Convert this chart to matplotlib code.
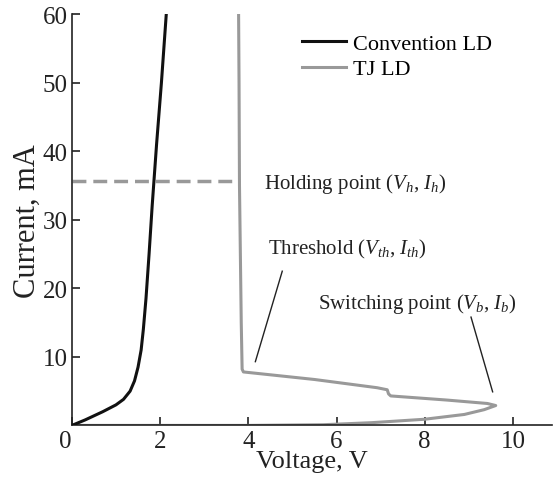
import matplotlib
matplotlib.use("Agg")
import matplotlib.pyplot as plt

plt.rcParams['font.family'] = ['Liberation Serif', 'DejaVu Serif']
plt.rcParams['mathtext.fontset'] = 'custom'
plt.rcParams['mathtext.it'] = 'Liberation Serif:italic'
plt.rcParams['mathtext.rm'] = 'Liberation Serif'

# Conventional LD I-V curve
conv_v = [0, 0.3, 0.7, 1.0, 1.17, 1.32, 1.42, 1.50, 1.57, 1.62, 1.68, 1.75, 1.82, 1.92, 2.03, 2.14]
conv_i = [0, 0.8, 2.0, 3.0, 3.8, 5.0, 6.5, 8.5, 11, 14, 18.5, 25, 32, 41, 50, 60]

# TJ LD I-V curve (S-shaped, with snap-back)
tj_v = [0, 2.0, 4.0, 5.7, 6.8, 8.0, 8.9, 9.35, 9.61, 9.42, 8.5, 7.23, 7.18, 7.15, 6.92, 5.5, 3.89,
        3.86, 3.84, 3.82, 3.80, 3.79, 3.78]
tj_i = [0, 0, 0, 0.1, 0.4, 0.9, 1.6, 2.3, 2.9, 3.2, 3.7, 4.3, 4.6, 5.2, 5.5, 6.7, 7.8,
        8.2, 15, 25, 35, 50, 60]

# Holding point current
hold_i = 35.6
hold_v_end = 3.8

x_ticks = [0, 2, 4, 6, 8, 10]
x_labels = ['0', '2', '4', '6', '8', '10']
y_ticks = [10, 20, 30, 40, 50, 60]

fig = plt.figure(figsize=(5.53, 4.89), dpi=100)
ax = fig.add_axes([0.130, 0.128, 0.8677, 0.841])

ax.plot(conv_v, conv_i, color='#111111', lw=2.2, label='Convention LD', zorder=3)
ax.plot(tj_v, tj_i, color='#999999', lw=2.2, label='TJ LD', zorder=2)
ax.plot([0, hold_v_end], [hold_i, hold_i], color='#999999', lw=2.5, ls=(0, (4, 2)), zorder=1)

ax.set_xlim(0, 10.88)
ax.set_ylim(0, 60)
ax.set_xticks(x_ticks)
ax.set_xticklabels(x_labels)
ax.set_yticks(y_ticks)
for s in ['top', 'right']:
    ax.spines[s].set_visible(False)
for s in ['left', 'bottom']:
    ax.spines[s].set_linewidth(1.2)
    ax.spines[s].set_color('#222222')
ax.tick_params(direction='in', length=6, width=1.2, labelsize=18, colors='#222222', pad=3)
# shift the "0" x tick label a bit to the left, as in the reference
lab0 = ax.get_xticklabels()[0]
lab0.set_horizontalalignment('right')
lab0.set_x(-0.02)

ax.set_xlabel('Voltage, V', fontsize=19, labelpad=-1, color='#222222')
ax.set_ylabel('Current, mA', fontsize=22, labelpad=1, color='#222222')

leg = ax.legend(loc='upper left', bbox_to_anchor=(0.46, 0.975), frameon=False,
                fontsize=16, handlelength=2.0, handletextpad=0.3, labelspacing=0.22,
                borderaxespad=0)

fs = 15
ax.text(4.36, hold_i - 0.2, r'Holding point ($V_h$, $I_h$)', fontsize=fs, va='center', ha='left', color='#222222')
ax.text(4.45, 25.8, r'Threshold ($V_{th}$, $I_{th}$)', fontsize=fs, va='center', ha='left', color='#222222')
ax.text(5.58, 17.8, r'Switching point ($V_b$, $I_b$)', fontsize=fs, va='center', ha='left', color='#222222')
ax.plot([4.77, 4.16], [22.5, 9.3], color='#222222', lw=1.0)
ax.plot([9.05, 9.54], [15.8, 4.9], color='#222222', lw=1.0)

fig.savefig('out.png', dpi=100)
